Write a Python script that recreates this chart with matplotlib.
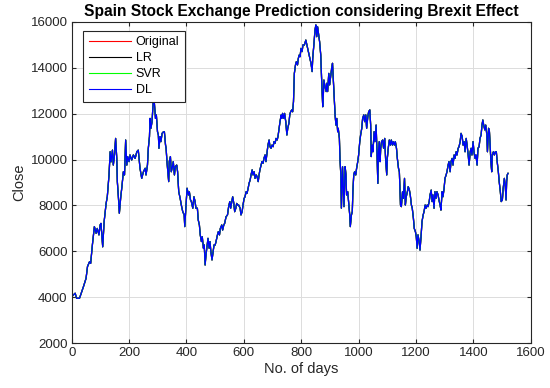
import matplotlib
matplotlib.use("Agg")
import matplotlib.pyplot as plt

plt.rcParams['font.family'] = ['Liberation Sans', 'DejaVu Sans']

days = [0, 12, 17, 27, 31, 41, 50, 55, 62, 66, 72, 76, 79, 85, 89, 95, 99, 102, 108, 113,
        120, 124, 130, 134, 137, 142, 145, 149, 153, 157, 159, 163, 166, 171, 175, 180, 184, 188, 192, 195,
        200, 203, 209, 215, 221, 227, 232, 238, 244, 250, 256, 259, 264, 267, 271, 273, 276, 280, 283, 286,
        288, 292, 295, 299, 302, 304, 308, 311, 315, 320, 323, 327, 329, 332, 335, 338, 340, 344, 347, 351,
        354, 358, 361, 366, 369, 373, 378, 382, 387, 392, 394, 397, 402, 407, 410, 414, 417, 422, 426, 430,
        433, 438, 441, 445, 448, 452, 455, 459, 462, 465, 468, 472, 475, 479, 482, 485, 489, 493, 496, 500,
        503, 508, 511, 515, 518, 523, 526, 530, 533, 538, 543, 547, 551, 554, 558, 561, 565, 568, 572, 575,
        579, 582, 587, 590, 594, 597, 601, 604, 608, 611, 615, 618, 622, 625, 629, 632, 636, 639, 643, 646,
        650, 653, 656, 660, 663, 667, 670, 674, 677, 681, 684, 688, 691, 695, 698, 702, 705, 709, 712, 716,
        719, 723, 726, 730, 732, 735, 739, 742, 746, 750, 753, 757, 760, 763, 767, 770, 773, 776, 780, 783,
        787, 790, 793, 796, 799, 803, 806, 811, 816, 821, 825, 830, 834, 838, 840, 844, 848, 851, 854, 857,
        861, 864, 868, 870, 872, 875, 877, 879, 883, 887, 889, 892, 896, 899, 903, 906, 909, 912, 915, 918,
        921, 924, 927, 929, 933, 935, 938, 940, 942, 944, 947, 949, 953, 956, 958, 962, 965, 969, 971, 975,
        978, 980, 983, 986, 990, 993, 997, 1000, 1004, 1007, 1011, 1014, 1018, 1021, 1025, 1028, 1032, 1035, 1039, 1042,
        1044, 1047, 1050, 1054, 1057, 1061, 1064, 1067, 1069, 1072, 1075, 1077, 1080, 1084, 1087, 1091, 1094, 1098, 1100, 1104,
        1107, 1111, 1114, 1118, 1121, 1125, 1128, 1132, 1135, 1139, 1142, 1146, 1149, 1153, 1156, 1160, 1163, 1166, 1170, 1173,
        1177, 1180, 1184, 1187, 1191, 1194, 1198, 1201, 1204, 1207, 1211, 1214, 1218, 1221, 1225, 1228, 1232, 1235, 1239, 1242,
        1246, 1249, 1253, 1256, 1259, 1263, 1266, 1270, 1273, 1277, 1280, 1284, 1287, 1291, 1294, 1298, 1301, 1305, 1308, 1312,
        1315, 1319, 1322, 1326, 1329, 1333, 1336, 1340, 1343, 1347, 1350, 1354, 1357, 1361, 1364, 1368, 1371, 1375, 1378, 1382,
        1385, 1389, 1392, 1395, 1399, 1402, 1406, 1409, 1413, 1416, 1420, 1423, 1427, 1430, 1433, 1436, 1440, 1443, 1447, 1449,
        1453, 1456, 1459, 1461, 1464, 1466, 1470, 1473, 1477, 1480, 1483, 1487, 1490, 1494, 1497, 1501, 1504, 1508, 1511, 1514,
        1516, 1518, 1521]

close = [4030, 4180, 3960, 3960, 4100, 4470, 4830, 5340, 5550, 5480, 6280, 6720, 7080, 6790, 7000, 6720, 7150, 7220, 6200, 7300,
         8100, 8380, 9330, 10340, 9900, 10410, 9760, 10200, 10920, 10050, 9040, 8310, 7660, 8380, 8820, 9470, 9330, 10850, 9760, 10130,
         9910, 10200, 9980, 10200, 10050, 10340, 10410, 9620, 9180, 9470, 9620, 9330, 9760, 10490, 11000, 11790, 11360, 11650, 12300, 12810,
         12450, 11790, 11940, 11210, 11070, 10490, 11000, 10780, 11140, 11210, 11210, 10630, 10490, 9910, 9470, 9040, 9910, 10130, 9470, 9690,
         9910, 9330, 9690, 9760, 9470, 8600, 8310, 8020, 7730, 7590, 7080, 7730, 8750, 8460, 8600, 8240, 8170, 7880, 8380, 8170,
         7880, 7880, 7370, 7150, 6720, 6430, 6640, 6140, 6280, 5410, 5850, 6280, 6570, 6140, 6430, 5990, 5630, 5990, 6280, 6280,
         6430, 6720, 6860, 6720, 7000, 7150, 6930, 7150, 7220, 7510, 7590, 7950, 8170, 7880, 8170, 8380, 8090, 7730, 7880, 8090,
         8020, 8020, 7880, 7590, 7730, 8020, 8310, 8380, 8600, 8530, 8750, 8960, 9110, 9330, 9550, 9330, 9470, 9180, 9330, 9260,
         9040, 9330, 9550, 9760, 9910, 9840, 10050, 10200, 9910, 10340, 10630, 10850, 10560, 10490, 10630, 10560, 10780, 10710, 10920, 10850,
         11000, 11360, 11650, 11940, 11790, 12010, 11790, 12010, 11650, 11070, 11360, 11580, 11940, 12080, 12160, 12080, 12520, 13750, 14120, 14260,
         14120, 14410, 14550, 14480, 14840, 14700, 14990, 14990, 15200, 14910, 14700, 14410, 14190, 13830, 14410, 14990, 15640, 15860, 15350, 15780,
         15420, 15130, 14550, 13830, 13170, 12300, 12810, 13460, 13170, 12960, 13320, 12960, 13750, 13250, 13680, 13970, 14190, 13460, 12810, 11940,
         11500, 11790, 11210, 11360, 10920, 10050, 9330, 7880, 8750, 9690, 8600, 7950, 9690, 9330, 8460, 8600, 8170, 7590, 7080, 7590,
         7730, 8600, 9330, 9470, 9330, 9620, 9910, 10200, 10780, 11070, 11360, 11790, 11940, 11650, 11940, 11360, 11860, 12080, 12160, 11500,
         10130, 10630, 10340, 11210, 10780, 11500, 10340, 8960, 10340, 10780, 9910, 10490, 10780, 10850, 10490, 10920, 10050, 9330, 10050, 10560,
         10850, 10630, 10850, 10630, 10780, 10630, 10780, 10490, 10050, 9620, 9470, 8020, 7950, 8600, 8310, 9180, 8020, 8380, 8600, 8820,
         8670, 8460, 8020, 7880, 7440, 7000, 6860, 6640, 6140, 6720, 6430, 6060, 6720, 7300, 7590, 7730, 8020, 7880, 8020, 7950,
         8170, 8460, 8670, 8170, 8460, 7880, 8600, 8310, 8600, 8460, 8240, 8020, 7800, 8600, 8380, 8750, 9180, 9330, 9470, 9760,
         9910, 9470, 9910, 10050, 9760, 10200, 10050, 10340, 10200, 10490, 10560, 10780, 11140, 11000, 10630, 10780, 10340, 10920, 10630, 10200,
         9760, 10340, 10490, 10200, 10780, 10340, 10050, 10200, 9760, 10490, 10560, 10920, 11070, 11500, 11720, 11500, 11290, 11500, 11070, 10340,
         11360, 11210, 10490, 9910, 9470, 10200, 10340, 10200, 10340, 10340, 9910, 9470, 9040, 8600, 8170, 8240, 8750, 9180, 8890, 8240,
         9040, 9330, 9400]

series_names = ['Original', 'LR', 'SVR', 'DL']
series_colors = ['#ff0000', '#000000', '#00ff00', '#0000ff']

xticks = [0, 200, 400, 600, 800, 1000, 1200, 1400, 1600]
yticks = [2000, 4000, 6000, 8000, 10000, 12000, 14000, 16000]

fig = plt.figure(figsize=(5.5, 3.88), dpi=100)
ax = fig.add_axes([0.1304, 0.1152, 0.8346, 0.8288])

for name, col in zip(series_names, series_colors):
    ax.plot(days, close, color=col, lw=0.9, label=name)

ax.set_xlim(0, 1600)
ax.set_ylim(2000, 16000)
ax.set_xticks(xticks)
ax.set_yticks(yticks)
ax.tick_params(direction='in', top=True, right=True, labelsize=9.5, length=3,
               color='#262626', labelcolor='#262626', pad=3)
ax.grid(True, color='#dcdcdc', lw=0.7)
ax.set_axisbelow(True)
for s in ax.spines.values():
    s.set_color('#262626')
    s.set_linewidth(0.8)

ax.set_xlabel('No. of days', fontsize=10.5, color='#262626', labelpad=2)
ax.set_ylabel('Close', fontsize=10.5, color='#262626', labelpad=3)
ax.set_title('Spain Stock Exchange Prediction considering Brexit Effect',
             fontsize=11.2, fontweight='bold', pad=4)

leg = ax.legend(loc='upper left', bbox_to_anchor=(0.025, 0.972), borderaxespad=0,
                fontsize=9, handlelength=3.4, handletextpad=0.35, labelspacing=0.32,
                fancybox=False, framealpha=1, edgecolor='#262626', borderpad=0.45)
leg.get_frame().set_linewidth(0.8)
for line in leg.get_lines():
    line.set_linewidth(0.8)

fig.savefig('out.png', dpi=100)
